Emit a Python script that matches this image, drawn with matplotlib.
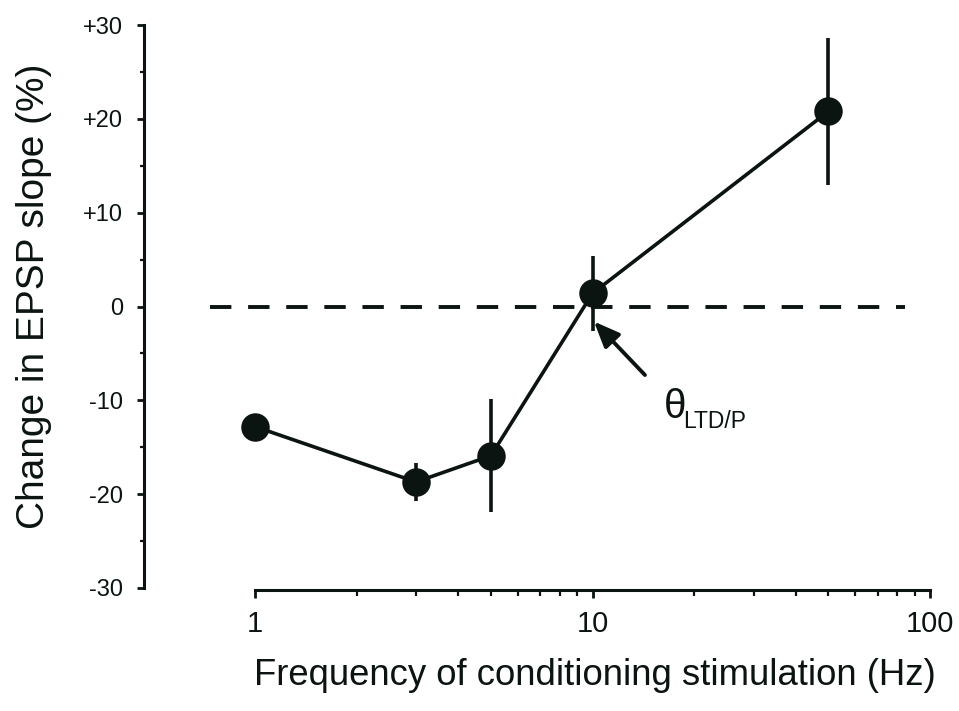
#!/usr/bin/env python3
"""Frequency-response curve for EPSP slope change after conditioning stimulation."""

import matplotlib

matplotlib.use("Agg")
import matplotlib.pyplot as plt
from matplotlib.ticker import FixedLocator, LogLocator, NullFormatter

# stimulation frequency (Hz), mean change in EPSP slope (%) and SEM
freq_hz = [1, 3, 5, 10, 50]
change_pct = [-12.8, -18.7, -15.9, 1.4, 20.8]
sem_pct = [0.8, 2.0, 6.0, 4.0, 7.8]

y_ticks = [-30, -20, -10, 0, 10, 20, 30]
y_tick_labels = ["-30", "-20", "-10", "0", "+10", "+20", "+30"]
x_ticks = [1, 10, 100]
x_tick_labels = ["1", "10", "100"]

INK = "#0b1410"

plt.rcParams["font.family"] = ["Liberation Sans", "DejaVu Sans"]

fig = plt.figure(figsize=(9.59, 7.11), dpi=100)
ax = fig.add_axes([0.2659, 0.173, 0.7039, 0.7918])

ax.set_xscale("log")
ax.set_xlim(1, 100)
ax.set_ylim(-30, 30)

# zero reference line, runs a little past both ends of the data range
ax.plot([0.736, 84.3], [0, 0], color=INK, lw=2.8, dashes=(5.5, 4.3), clip_on=False, zorder=1)

ax.errorbar(
    freq_hz, change_pct, yerr=sem_pct,
    fmt="-o", color=INK, lw=2.6, elinewidth=2.6, capsize=0,
    markersize=19.5, markerfacecolor=INK, markeredgecolor=INK,
    clip_on=False, zorder=3,
)

# crossover threshold
ax.annotate(
    "", xy=(10.1, -1.6), xytext=(14.3, -7.3),
    arrowprops=dict(arrowstyle="-|>,head_length=0.6,head_width=0.25", color=INK,
                    lw=2.8, mutation_scale=26, shrinkA=0, shrinkB=0),
)
ax.text(16.3, -10.7, "θ", fontsize=29, color=INK, ha="left", va="center")
ax.text(18.6, -12.3, "LTD/P", fontsize=16.5, color=INK, ha="left", va="center")

for side in ("top", "right"):
    ax.spines[side].set_visible(False)
ax.spines["left"].set_position(("outward", 80))
ax.spines["bottom"].set_position(("outward", 1.5))
for side in ("left", "bottom"):
    ax.spines[side].set_linewidth(2.2)
    ax.spines[side].set_color(INK)

ax.yaxis.set_major_locator(FixedLocator(y_ticks))
ax.set_yticklabels(y_tick_labels)
ax.yaxis.set_minor_locator(FixedLocator([-25, -15, -5, 5, 15, 25]))
ax.xaxis.set_major_locator(FixedLocator(x_ticks))
ax.set_xticklabels(x_tick_labels)
ax.xaxis.set_minor_locator(LogLocator(base=10, subs=range(2, 10)))
ax.xaxis.set_minor_formatter(NullFormatter())

ax.tick_params(axis="y", which="major", direction="out", length=5, width=2.0,
               color=INK, labelsize=17, pad=10, labelcolor=INK)
ax.tick_params(axis="y", which="minor", direction="out", length=3, width=1.6, color=INK)
ax.tick_params(axis="x", which="major", direction="out", length=6, width=2.0,
               color=INK, labelsize=21, pad=8, labelcolor=INK)
ax.tick_params(axis="x", which="minor", direction="out", length=4, width=1.6, color=INK)

ax.set_ylabel("Change in EPSP slope (%)", fontsize=28, color=INK)
ax.yaxis.set_label_coords(-0.30, 0.519)
ax.set_xlabel("Frequency of conditioning stimulation (Hz)", fontsize=26.3, color=INK)
ax.xaxis.set_label_coords(0.504, -0.125)

fig.savefig("out.png", dpi=100)
